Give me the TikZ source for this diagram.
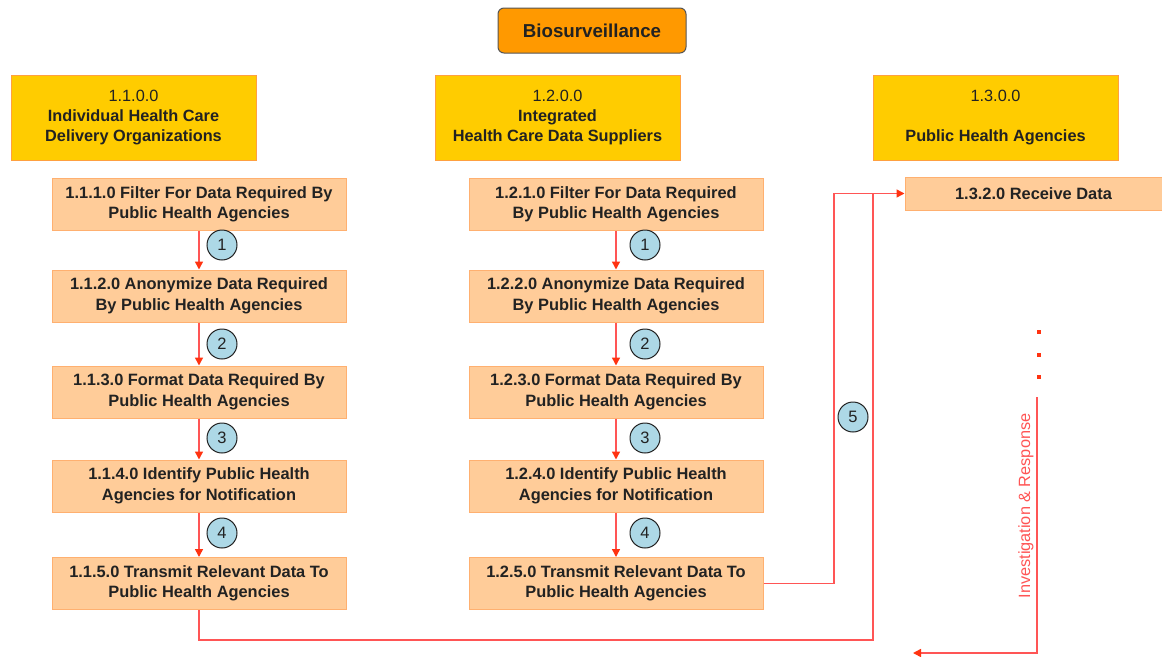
\documentclass[tikz,border=0pt]{standalone}
\usepackage{fontspec}
\setmainfont{Liberation Sans}
\usetikzlibrary{arrows.meta}
\definecolor{hdrfill}{HTML}{FFCC00}
\definecolor{hdrdraw}{HTML}{FFA040}
\definecolor{procfill}{HTML}{FFCC99}
\definecolor{procdraw}{HTML}{FFB070}
\definecolor{biofill}{HTML}{FF9900}
\definecolor{biodraw}{HTML}{555555}
\definecolor{connred}{HTML}{FF5555}
\definecolor{tipred}{HTML}{FF3311}
\definecolor{circfill}{HTML}{ADD8E6}
\definecolor{txt}{HTML}{222222}
\begin{document}
\begin{tikzpicture}[x=1pt,y=-1pt,
  font=\fontsize{16.3}{20}\selectfont,
  hdr/.style={draw=hdrdraw,fill=hdrfill,line width=1pt,minimum width=245pt,minimum height=85pt,align=center,text=txt,inner sep=0pt},
  proc/.style={draw=procdraw,fill=procfill,line width=1pt,minimum width=294pt,minimum height=52pt,align=center,text=txt,inner sep=0pt,font=\fontsize{16.4}{20.5}\selectfont\bfseries},
  num/.style={circle,draw=txt,fill=circfill,line width=1pt,minimum size=30pt,inner sep=0pt,text=txt,font=\fontsize{16.5}{16.5}\selectfont},
  conn/.style={draw=connred,line width=1.5pt},
  tip/.style={-{Triangle[width=8pt,length=8pt,color=tipred]}}
]
\useasboundingbox (0,0) rectangle (1162,656);
\fill[white] (0,0) rectangle (1162,656);

\node[draw=biodraw,fill=biofill,rounded corners=6pt,line width=1pt,minimum width=188pt,minimum height=45pt,text=txt,font=\fontsize{18.7}{20}\selectfont\bfseries] (bio) at (592,30.5) {Biosurveillance};

\node[hdr] (h1) at (133.5,117.5) {1.1.0.0\\\textbf{Individual Health Care}\\\textbf{Delivery Organizations}};
\node[hdr] (h2) at (557.5,117.5) {1.2.0.0\\\textbf{Integrated}\\\textbf{Health Care Data Suppliers}};
\node[hdr] (h3) at (995.5,117.5) {1.3.0.0\\[20pt]\textbf{Public Health Agencies}};

\node[proc] (b11) at (199,204.5) {1.1.1.0 Filter For Data Required By\\Public Health Agencies};
\node[proc] (b12) at (199,296) {1.1.2.0 Anonymize Data Required\\By Public Health Agencies};
\node[proc] (b13) at (199,392) {1.1.3.0 Format Data Required By\\Public Health Agencies};
\node[proc] (b14) at (199,486) {1.1.4.0 Identify Public Health\\Agencies for Notification};
\node[proc] (b15) at (199,583.5) {1.1.5.0 Transmit Relevant Data To\\Public Health Agencies};

\node[proc] (b21) at (616,204.5) {1.2.1.0 Filter For Data Required\\By Public Health Agencies};
\node[proc] (b22) at (616,296) {1.2.2.0 Anonymize Data Required\\By Public Health Agencies};
\node[proc] (b23) at (616,392) {1.2.3.0 Format Data Required By\\Public Health Agencies};
\node[proc] (b24) at (616,486) {1.2.4.0 Identify Public Health\\Agencies for Notification};
\node[proc] (b25) at (616,583.5) {1.2.5.0 Transmit Relevant Data To\\Public Health Agencies};

\node[proc,minimum width=257pt,minimum height=33pt] (r) at (1033.5,193.5) {1.3.2.0 Receive Data};

\foreach \a/\b in {b11/b12,b12/b13,b13/b14,b14/b15,b21/b22,b22/b23,b23/b24,b24/b25}
  \draw[conn,tip] (\a) -- (\b);

\node[num] (c11) at (222,245) {1};
\node[num] (c12) at (222,344) {2};
\node[num] (c13) at (222,438) {3};
\node[num] (c14) at (222,533) {4};
\node[num] (c21) at (645,245) {1};
\node[num] (c22) at (645,344) {2};
\node[num] (c23) at (645,438) {3};
\node[num] (c24) at (645,533) {4};

\coordinate (j5) at (834,193.5);
\coordinate (j6a) at (873,640);
\coordinate (j6b) at (873,193.5);
\draw[conn] (b15.south) |- (j6a) -- (j6b);
\draw[conn,tip] (b25.east) -| (j5) -- (r.west);
\node[num] (c5) at (853,417) {5};

\coordinate (iv1) at (1037,397);
\coordinate (iv2) at (1037,653);
\coordinate (iv3) at (913,653);
\draw[conn,tip] (iv1) -- (iv2) -- (iv3);
\node[rotate=90,text=connred,font=\fontsize{16.3}{18}\selectfont,inner sep=0pt] (ivt) at (1026,506) {Investigation \& Response};

\foreach \yy in {332,355,377}
  \fill[tipred] (1039,\yy) ++(-2,-2) rectangle ++(4,4);
\end{tikzpicture}
\end{document}
